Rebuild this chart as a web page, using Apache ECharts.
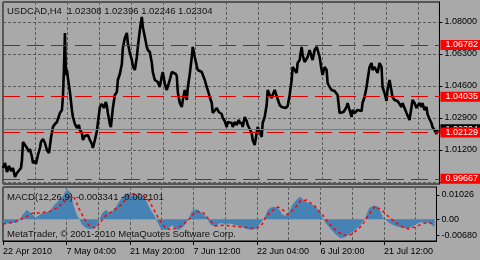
<!DOCTYPE html>
<html><head><meta charset="utf-8">
<script src="https://cdn.jsdelivr.net/npm/echarts@6/dist/echarts.min.js"></script>
<style>html,body{margin:0;padding:0;background:#a9a9a9}#c{width:480px;height:260px}</style>
</head><body><div id="c"></div>
<script>
// ---- data ----
const titleText = 'USDCAD,H4  1.02308 1.02396 1.02246 1.02304';
const macdText = 'MACD(12,26,9) -0.003341 -0.002101';
const copyrightText = 'MetaTrader, \u00a9 2001-2010 MetaQuotes Software Corp.';
const tickIdx = [0, 64, 128, 192, 256, 320, 384];
const tickLabels = ['22 Apr 2010', '7 May 04:00', '21 May 20:00', '7 Jun 12:00', '22 Jun 04:00', '6 Jul 20:00', '21 Jul 12:00'];
const priceTicks = [1.08, 1.063, 1.046, 1.029, 1.012, 0.995];
const priceLabels = [1.08, 1.063, 1.046, 1.029, 1.012];
const levels = [1.06782, 1.04035, 1.02129, 0.99667];
const bid = 1.02304;
const macdTicks = [0.01026, 0, -0.0068];

const priceIdx = [0,2,4,6,8,10,12,14,16,18,19,20,21,22,24,26,27,29,30,32,33,34,35,37,38,40,42,44,46,47,48,50,52,54,55,57,59,60,61,62,63,64,65,67,69,70,72,74,76,77,79,80,82,84,85,87,89,90,92,94,95,97,99,101,103,104,105,107,108,110,112,114,115,117,119,120,122,124,125,127,129,130,132,134,135,137,139,140,142,144,145,147,149,150,152,154,155,157,159,160,162,164,165,167,169,171,173,174,175,177,179,180,182,184,185,187,189,190,192,194,195,197,199,200,202,204,205,207,209,210,212,214,216,217,219,220,222,224,225,227,229,230,232,234,236,238,239,240,242,244,245,247,249,250,252,254,255,257,259,260,262,264,265,267,269,270,272,274,275,277,279,281,283,285,287,289,290,292,294,295,297,299,300,302,304,305,307,309,310,312,314,315,317,319,320,322,324,325,327,329,331,332,334,335,337,339,341,342,344,345,347,349,350,352,354,355,357,359,360,362,364,365,367,369,370,372,374,375,377,379,380,382,384,385,387,389,390,392,394,395,397,399,400,402,404,405,407,409,410,412,414,415,417,419,420,422,424,425,427,429,430,432,434,435];
const priceVal = [1.00244,1.00509,1.00031,1.0035,1.00084,1.00244,0.99766,0.99978,0.99925,1.00244,1.00669,1.01625,1.01731,1.01519,1.01306,1.01094,1.01253,1.00828,1.00509,1.00616,1.00456,1.00509,1.00934,1.01306,1.01625,1.01784,1.01572,1.012,1.01041,1.01413,1.01838,1.02422,1.02581,1.02688,1.02741,1.03166,1.03325,1.04016,1.0545,1.07416,1.05184,1.0545,1.05025,1.04281,1.03325,1.02953,1.02581,1.02369,1.02528,1.02263,1.02103,1.01731,1.01944,1.01838,1.01997,1.01731,1.01519,1.01306,1.01731,1.02209,1.02634,1.03484,1.03644,1.03431,1.0375,1.03538,1.03166,1.02581,1.02422,1.03431,1.04122,1.04281,1.04919,1.05238,1.05769,1.06619,1.0715,1.07416,1.06884,1.06353,1.05981,1.05663,1.0545,1.06141,1.06672,1.07575,1.08266,1.07734,1.07203,1.06672,1.06513,1.06406,1.05822,1.05344,1.04919,1.05025,1.04813,1.04547,1.05131,1.05344,1.04706,1.04388,1.04494,1.04919,1.05344,1.0545,1.05238,1.05131,1.04281,1.03697,1.03484,1.03856,1.04388,1.03856,1.04494,1.05238,1.06141,1.06672,1.06141,1.05663,1.0545,1.05556,1.05344,1.0545,1.04919,1.04547,1.04388,1.04016,1.03697,1.03166,1.03219,1.03431,1.03219,1.03325,1.03113,1.029,1.02741,1.02422,1.02688,1.02794,1.02634,1.02422,1.02688,1.02528,1.02794,1.02581,1.02688,1.02422,1.02953,1.02741,1.02528,1.02581,1.02103,1.01731,1.01466,1.02103,1.02422,1.02156,1.01891,1.02634,1.02953,1.03591,1.04388,1.04122,1.03963,1.04122,1.04388,1.04069,1.04016,1.03591,1.03484,1.03538,1.03431,1.03538,1.04122,1.04919,1.05609,1.05556,1.05291,1.05822,1.05981,1.06672,1.06247,1.05875,1.05875,1.06141,1.06513,1.06141,1.05981,1.06513,1.06672,1.06513,1.06141,1.0545,1.05184,1.05609,1.0545,1.04759,1.04547,1.04388,1.04441,1.04334,1.04228,1.04122,1.03166,1.03113,1.03219,1.03166,1.03484,1.03697,1.03325,1.02953,1.03325,1.03166,1.03113,1.03325,1.03431,1.03272,1.03697,1.04016,1.04547,1.04919,1.05609,1.05822,1.0545,1.05609,1.05503,1.05291,1.05822,1.05609,1.04547,1.04228,1.03803,1.04388,1.04919,1.04813,1.04016,1.03856,1.03909,1.03803,1.03697,1.03484,1.03697,1.03431,1.03166,1.03113,1.02794,1.03484,1.03856,1.03697,1.03431,1.03538,1.03697,1.03484,1.03697,1.03325,1.03484,1.03113,1.02847,1.02634,1.02422,1.02263,1.0205,1.02304];

const macdIdx = [0,5,10,15,17,20,24,26,29,33,35,37,40,44,47,50,55,60,63,66,68,69,71,74,77,80,84,88,91,94,97,100,104,107,110,114,117,120,124,126,128,130,134,137,140,144,147,150,154,157,160,164,167,170,174,177,182,187,190,194,197,200,204,207,210,214,219,224,229,234,240,245,250,255,260,264,267,271,275,279,282,285,288,292,297,300,304,309,314,319,322,325,330,335,340,344,349,354,360,365,369,373,377,380,383,385,390,397,404,410,415,420,425,430,435];
const macdVal = [-0.0015,-0.0018,-0.0016,-0.0012,-0.0004,0.002,0.004,0.0038,0.0022,0.0008,0.0007,0.0018,0.0028,0.0031,0.0033,0.0052,0.0075,0.0095,0.0118,0.0124,0.0112,0.0096,0.006,0.0022,0,-0.0024,-0.0038,-0.0042,-0.004,-0.003,-0.0002,0.0026,0.004,0.0027,0.0033,0.0054,0.0074,0.0092,0.011,0.0116,0.0108,0.0097,0.0104,0.0098,0.0097,0.008,0.0054,0.0033,0.0005,-0.0024,-0.0043,-0.0045,-0.0039,-0.0025,-0.004,-0.0045,-0.003,0,0.0033,0.0041,0.004,0.0028,0.0015,-0.0007,-0.0025,-0.003,-0.0016,-0.002,-0.0018,-0.0024,-0.003,-0.004,-0.0045,-0.004,-0.0015,0.0012,0.004,0.0052,0.0052,0.0038,0.0018,0.0016,0.003,0.0062,0.0088,0.0095,0.0077,0.0068,0.0056,0.0035,0.0008,-0.0015,-0.004,-0.0062,-0.008,-0.0078,-0.0062,-0.0048,-0.0026,0.0003,0.0047,0.0057,0.0056,0.0038,0.0008,0,-0.0018,-0.003,-0.0038,-0.0037,-0.0025,-0.0014,-0.0012,-0.0017,-0.003341];

const sigIdx = [0,10,20,30,37,47,54,60,67,72,77,82,87,94,97,104,110,119,127,134,140,147,152,157,164,170,179,187,194,202,207,214,224,234,244,254,260,264,269,277,282,287,294,300,306,314,322,329,335,342,349,355,362,369,375,382,387,394,402,409,417,424,430,435];
const sigVal = [-0.002,-0.0013,0.0003,0.0026,0.0027,0.0033,0.0047,0.0066,0.0095,0.009,0.0042,0.0002,-0.0028,-0.0037,-0.0018,0.0018,0.0033,0.006,0.0103,0.011,0.0104,0.008,0.0042,0.0002,-0.0038,-0.0044,-0.003,-0.0002,0.0032,0.0028,0.0002,-0.0028,-0.0025,-0.003,-0.0034,-0.0037,-0.003,0.0002,0.003,0.0052,0.004,0.002,0.0045,0.0078,0.0081,0.0058,0.002,-0.0019,-0.0044,-0.0065,-0.0069,-0.0052,-0.0025,0.002,0.0055,0.0038,0.0018,-0.0008,-0.003,-0.0041,-0.003,-0.0017,-0.0015,-0.002101];

// ---- chart ----
const FONT = 'Liberation Sans';
const gridDash = { color: '#5c5c5c', type: [3, 2], width: 1 };
const pairs = (xs, ys) => xs.map((x, i) => [x, ys[i]]);

const chart = echarts.init(document.getElementById('c'), null, { renderer: 'canvas' });
chart.setOption({
  animation: false,
  backgroundColor: '#a9a9a9',
  textStyle: { fontFamily: FONT },
  grid: [
    { left: 3, top: 2, width: 437, height: 182, show: true, borderColor: '#000', borderWidth: 1, backgroundColor: 'transparent' },
    { left: 3, top: 187, width: 437, height: 54, show: true, borderColor: '#000', borderWidth: 1, backgroundColor: 'transparent' }
  ],
  xAxis: [
    { type: 'value', gridIndex: 0, min: 0, max: 437, interval: 32,
      axisLine: { show: false, onZero: false }, axisTick: { show: false }, axisLabel: { show: false },
      splitLine: { show: true, lineStyle: gridDash } },
    { type: 'value', gridIndex: 1, min: 0, max: 437, interval: 32,
      axisLine: { show: false, onZero: false }, axisTick: { show: false }, axisLabel: { show: false },
      splitLine: { show: true, lineStyle: gridDash } },
    { type: 'value', gridIndex: 1, min: 0, max: 437, position: 'bottom',
      axisLine: { show: true, onZero: false, lineStyle: { color: '#000' } },
      axisTick: { show: true, customValues: tickIdx, length: 4, lineStyle: { color: '#000' } },
      axisLabel: { show: true, customValues: tickIdx, align: 'left', margin: 6, fontSize: 9, color: '#000', fontFamily: FONT,
        formatter: v => tickLabels[tickIdx.indexOf(v)] || '' },
      splitLine: { show: false } }
  ],
  yAxis: [
    { type: 'value', gridIndex: 0, position: 'right', min: 0.993938, max: 1.090625,
      axisLine: { show: true, onZero: false, lineStyle: { color: '#000' } },
      axisTick: { show: true, customValues: priceTicks, length: 3, lineStyle: { color: '#000' } },
      axisLabel: { show: true, customValues: priceLabels, margin: 5, fontSize: 9, color: '#000', fontFamily: FONT,
        formatter: v => v.toFixed(5) },
      splitLine: { show: true, lineStyle: gridDash } },
    { type: 'value', gridIndex: 1, position: 'right', min: -0.00916, max: 0.01363,
      axisLine: { show: true, onZero: false, lineStyle: { color: '#000' } },
      axisTick: { show: true, customValues: macdTicks, length: 3, lineStyle: { color: '#000' } },
      axisLabel: { show: true, customValues: macdTicks, margin: 5, fontSize: 9, color: '#000', fontFamily: FONT,
        formatter: v => (v === 0 ? '0.00' : v.toFixed(5)) },
      splitLine: { show: false } }
  ],
  series: [
    { type: 'line', name: 'bid', xAxisIndex: 0, yAxisIndex: 0, data: [], z: 2,
      markLine: { silent: true, symbol: ['none', 'none'], animation: false, precision: 5,
        lineStyle: { color: '#7a7a7a', type: 'solid', width: 1 },
        label: { show: true, position: 'end', distance: 1, formatter: () => bid.toFixed(5), color: '#fff',
          backgroundColor: '#000', fontSize: 9, fontFamily: FONT, padding: [0, 4, 0, 5], lineHeight: 10 },
        data: [{ yAxis: bid }] } },
    { type: 'line', name: 'price', xAxisIndex: 0, yAxisIndex: 0, data: pairs(priceIdx, priceVal),
      showSymbol: false, symbol: 'none', z: 3, lineStyle: { color: '#000', width: 2.6 } },
    { type: 'line', name: 'levels', xAxisIndex: 0, yAxisIndex: 0, data: [], z: 4,
      markLine: { silent: true, symbol: ['none', 'none'], animation: false, precision: 5,
        lineStyle: { color: '#e00000', type: [17, 7], width: 1 },
        label: { show: true, position: 'end', distance: 1, formatter: p => levels[p.dataIndex].toFixed(5), color: '#fff',
          backgroundColor: '#ff0000', fontSize: 9, fontFamily: FONT, padding: [0, 4, 0, 5], lineHeight: 10 },
        data: levels.map(v => ({ yAxis: v })) } },
    { type: 'line', name: 'macd', xAxisIndex: 1, yAxisIndex: 1, data: pairs(macdIdx, macdVal),
      showSymbol: false, symbol: 'none', z: 2, lineStyle: { width: 0, color: '#4682b4' },
      areaStyle: { color: '#4682b4', opacity: 1 } },
    { type: 'line', name: 'signal', xAxisIndex: 1, yAxisIndex: 1, data: pairs(sigIdx, sigVal),
      showSymbol: false, symbol: 'none', z: 3, lineStyle: { color: '#ff0000', type: [3, 3], width: 1.5 } }
  ],
  graphic: [
    { type: 'text', x: 7, y: 11, z: 100, style: { text: titleText, fill: '#111', font: '9.5px "Liberation Sans"', verticalAlign: 'middle' } },
    { type: 'text', x: 7, y: 197, z: 100, style: { text: macdText, fill: '#111', font: '9.5px "Liberation Sans"', verticalAlign: 'middle' } },
    { type: 'text', x: 7, y: 234.5, z: 100, style: { text: copyrightText, fill: '#111', font: '9.5px "Liberation Sans"', verticalAlign: 'middle' } }
  ]
});
</script>
</body></html>
